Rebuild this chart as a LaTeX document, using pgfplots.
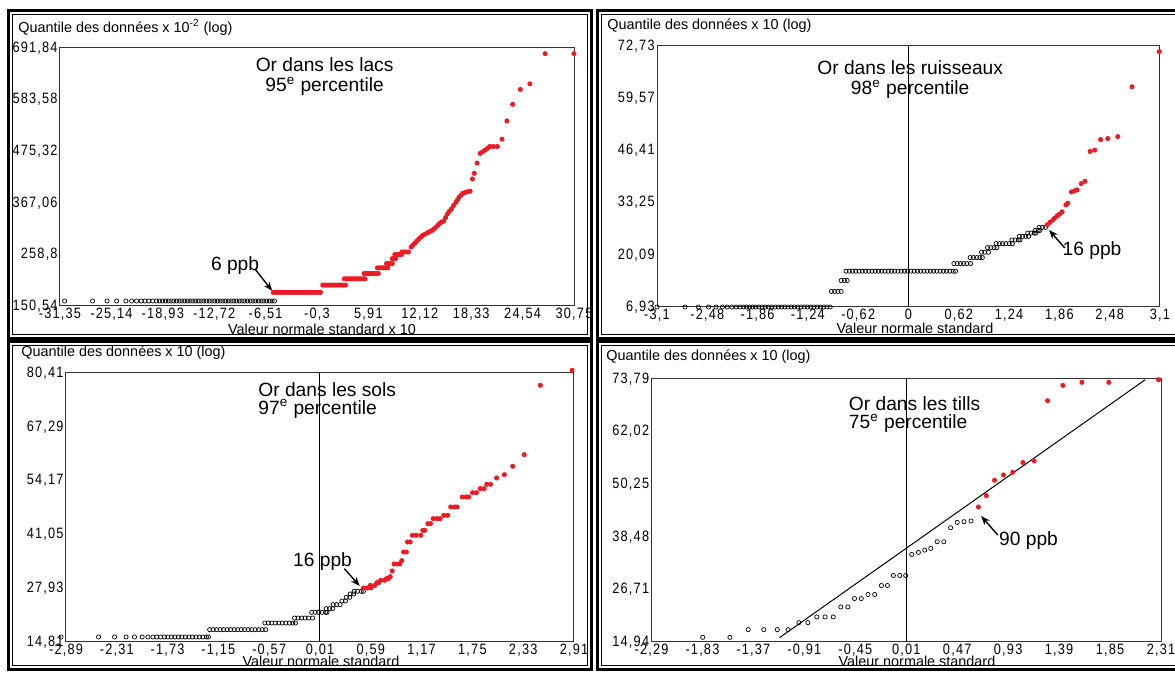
\documentclass[border=0pt]{standalone}
\usepackage{fontspec}
\setmainfont{Liberation Sans}
\newfontfamily\tickfont[FakeStretch=0.85,LetterSpace=8]{Liberation Sans}
\usepackage{pgfplots}
\pgfplotsset{compat=1.18}
\usetikzlibrary{arrows.meta}
\definecolor{ptred}{RGB}{237,28,36}
\newcommand{\tfont}{\fontsize{9.6}{10.3}\selectfont}
\newcommand{\tfontb}{\fontsize{9.6}{8.7}\selectfont}
\newcommand{\lfont}{\fontsize{7.2}{8}\selectfont}
\pgfplotsset{
  qq/.style={scale only axis, clip=false, anchor=south west,
    axis line style={black!80,line width=0.5pt},
    major tick length=0pt, tick style={draw=none},
    ticklabel style={font=\tickfont\fontsize{7.5}{8}\selectfont, text=black},
    xticklabel style={inner sep=0.8pt}, yticklabel style={inner sep=1pt}},
  blk/.style={only marks, mark=o, mark size=1.05pt, black, mark options={line width=0.35pt}},
  rd/.style={only marks, mark=*, mark size=1.05pt, ptred, mark options={draw=ptred, fill=ptred}},
  zl/.style={no marks, black, line width=0.5pt},
}
\begin{document}
\begin{tikzpicture}
\path[use as bounding box] (0pt,0pt) rectangle (587.5pt,-336.5pt);
% panel frames
\draw[line width=1.5pt] (4.25pt,-5.25pt) rectangle (295.5pt,-169.25pt);
\draw[line width=0.5pt] (6.25pt,-7.25pt) rectangle (293.5pt,-167.25pt);
\draw[line width=1.5pt] (298.75pt,-5.25pt) rectangle (592.5pt,-169.25pt);
\draw[line width=0.5pt] (300.75pt,-7.25pt) rectangle (590.5pt,-167.25pt);
\draw[line width=1.5pt] (4.25pt,-171pt) rectangle (295.5pt,-334.75pt);
\draw[line width=0.5pt] (6.25pt,-173pt) rectangle (293.5pt,-332.75pt);
\draw[line width=1.5pt] (298.75pt,-171pt) rectangle (592.5pt,-334.75pt);
\draw[line width=0.5pt] (300.75pt,-173pt) rectangle (590.5pt,-332.75pt);

% ---------------- top left: lacs
\begin{axis}[qq, at={(30pt,-153pt)}, width=257pt, height=129pt,
  xmin=-31.35, xmax=30.75, ymin=150.54, ymax=691.84,
  xtick={-31.35,-25.14,-18.93,-12.72,-6.51,-0.3,5.91,12.12,18.33,24.54,30.75},
  xticklabels={{-31,35},{-25,14},{-18,93},{-12,72},{-6,51},{-0,3},{5,91},{12,12},{18,33},{24,54},{30,75}},
  ytick={150.54,258.8,367.06,475.32,583.58,691.84},
  yticklabels={{150,54},{258,8},{367,06},{475,32},{583,58},{691,84}}]
\addplot[blk] coordinates {(-30.79,161) (-27.42,161) (-25.66,161) (-24.5,161) (-23.39,161) (-22.7,161) (-22.1,161) (-21.54,161) (-21.08,161) (-20.62,161) (-20.15,161) (-19.69,161) (-19.32,161) (-18.95,161) (-18.6,161) (-18.27,161) (-17.94,161) (-17.61,161) (-17.28,161) (-16.95,161) (-16.62,161) (-16.29,161) (-15.96,161) (-15.63,161) (-15.3,161) (-14.97,161) (-14.64,161) (-14.31,161) (-13.98,161) (-13.65,161) (-13.32,161) (-12.99,161) (-12.66,161) (-12.33,161) (-12.0,161) (-11.67,161) (-11.34,161) (-11.01,161) (-10.68,161) (-10.35,161) (-10.02,161) (-9.69,161) (-9.36,161) (-9.03,161) (-8.7,161) (-8.37,161) (-8.04,161) (-7.71,161) (-7.38,161) (-7.05,161) (-6.72,161) (-6.39,161) (-6.06,161) (-5.73,161) (-5.44,161)};
\addplot[rd] coordinates {(-5.58,179.1) (-5.33,179.1) (-5.08,179.1) (-4.83,179.1) (-4.58,179.1) (-4.33,179.1) (-4.08,179.1) (-3.83,179.1) (-3.58,179.1) (-3.33,179.1) (-3.08,179.1) (-2.83,179.1) (-2.58,179.1) (-2.33,179.1) (-2.08,179.1) (-1.83,179.1) (-1.58,179.1) (-1.33,179.1) (-1.08,179.1) (-0.83,179.1) (-0.58,179.1) (-0.33,179.1) (-0.08,179.1) (0.11,179.1)
(0.4,194.4) (0.65,194.4) (0.9,194.4) (1.15,194.4) (1.4,194.4) (1.65,194.4) (1.9,194.4) (2.15,194.4) (2.4,194.4) (2.65,194.4) (2.9,194.4) (3.15,194.4)
(3.0,207.6) (3.25,207.6) (3.5,207.6) (3.75,207.6) (4.0,207.6) (4.25,207.6) (4.5,207.6) (4.75,207.6) (5.0,207.6) (5.25,207.6) (5.5,207.6)
(5.4,218.7) (5.65,218.7) (5.9,218.7) (6.15,218.7) (6.4,218.7) (6.65,218.7) (6.9,218.7) (7.1,218.7)
(7.0,230.6) (7.25,230.6) (7.5,230.6) (7.75,230.6) (8.0,230.6) (8.25,230.6)
(8.1,239.6) (8.35,239.6) (8.6,239.6) (8.8,239.6)
(8.8,250.0) (9.0,250.0) (9.2,250.0)
(9.1,258.4) (9.35,258.4) (9.6,258.4) (9.9,258.4)
(9.95,263.9) (10.2,263.9) (10.45,263.9) (10.75,263.9)
(11.08,274.4) (11.3,278.5) (11.54,282.7) (11.77,287) (12.0,291.1) (12.24,295) (12.47,298.7) (12.77,301.5) (13.07,304.3) (13.35,306.7) (13.62,309.2) (13.85,312.5) (14.09,316.1) (14.32,320.3) (14.55,324.5) (14.78,326.6) (15.01,328.7) (15.24,336.3) (15.47,344.0) (15.7,349.2) (15.94,354.4) (16.2,361.4) (16.49,368.3) (16.68,373.5) (16.86,378.8) (17.1,383) (17.33,387.1) (17.67,389.2) (18.02,391.3) (18.2,391.3) (18.48,417.0) (18.71,428.9) (19.04,450.4) (19.41,470.6) (19.7,474.1) (20.01,477.6) (20.3,481.4) (20.57,485.2) (21.0,485.2) (21.49,485.2) (22.05,500.5) (22.65,538.8) (23.34,573.6) (24.27,604.9) (25.42,616.7) (27.27,680.0) (30.75,680.0)};
\node[font=\tfont, align=center] at (axis cs:0.62,632) {Or dans les lacs\\95\textsuperscript{e} percentile};
\node[font=\tfont] at (axis cs:-10.2,236.1) {6 ppb};
\draw[-{Stealth[length=4.5pt,width=3.5pt]}, line width=0.7pt] (axis cs:-7.75,227.1) -- (axis cs:-5.72,182.5);
\end{axis}

% ---------------- top right: ruisseaux
\begin{axis}[qq, at={(328.5pt,-153.5pt)}, width=251.5pt, height=130.5pt,
  xmin=-3.1, xmax=3.1, ymin=6.93, ymax=72.73,
  xtick={-3.1,-2.48,-1.86,-1.24,-0.62,0,0.62,1.24,1.86,2.48,3.1},
  xticklabels={{-3,1},{-2,48},{-1,86},{-1,24},{-0,62},0,{0,62},{1,24},{1,86},{2,48},{3,1}},
  ytick={6.93,20.09,33.25,46.41,59.57,72.73},
  yticklabels={{6,93},{20,09},{33,25},{46,41},{59,57},{72,73}}]
\addplot[zl] coordinates {(0,6.93) (0,72.73)};
\addplot[blk] coordinates {(-3.1,6.93) (-2.755,6.93) (-2.589,6.93) (-2.465,6.93) (-2.373,6.93) (-2.294,6.93) (-2.235,6.93) (-2.179,6.93) (-2.124,6.93) (-2.078,6.93) (-2.032,6.93) (-1.995,6.93) (-1.958,6.93) (-1.922,6.93) (-1.885,6.93) (-1.845,6.93) (-1.805,6.93) (-1.765,6.93) (-1.725,6.93) (-1.685,6.93) (-1.645,6.93) (-1.605,6.93) (-1.565,6.93) (-1.525,6.93) (-1.485,6.93) (-1.445,6.93) (-1.405,6.93) (-1.365,6.93) (-1.325,6.93) (-1.285,6.93) (-1.245,6.93) (-1.205,6.93) (-1.165,6.93) (-1.125,6.93) (-1.085,6.93) (-1.045,6.93) (-1.005,6.93) (-0.965,6.93)
(-0.95,10.86) (-0.91,10.86) (-0.87,10.86) (-0.83,10.86)
(-0.83,13.62) (-0.79,13.62) (-0.755,13.62)
(-0.77,15.96) (-0.73,15.96) (-0.69,15.96) (-0.65,15.96) (-0.61,15.96) (-0.57,15.96) (-0.53,15.96) (-0.49,15.96) (-0.45,15.96) (-0.41,15.96) (-0.37,15.96) (-0.33,15.96) (-0.29,15.96) (-0.25,15.96) (-0.21,15.96) (-0.17,15.96) (-0.13,15.96) (-0.09,15.96) (-0.05,15.96) (-0.01,15.96) (0.03,15.96) (0.07,15.96) (0.11,15.96) (0.15,15.96) (0.19,15.96) (0.23,15.96) (0.27,15.96) (0.31,15.96) (0.35,15.96) (0.39,15.96) (0.43,15.96) (0.47,15.96) (0.51,15.96) (0.55,15.96) (0.58,15.96)
(0.56,17.88) (0.6,17.88) (0.64,17.88) (0.68,17.88) (0.72,17.88) (0.765,17.88)
(0.76,19.39) (0.8,19.39) (0.84,19.39) (0.88,19.39) (0.91,19.39)
(0.9,20.73) (0.94,20.73) (0.985,20.73)
(0.975,21.9) (1.015,21.9) (1.055,21.9) (1.09,21.9)
(1.08,22.9) (1.12,22.9) (1.16,22.9) (1.2,22.9) (1.24,22.9) (1.28,22.9)
(1.275,23.82) (1.315,23.82) (1.355,23.82) (1.375,23.82)
(1.365,24.74) (1.405,24.74) (1.445,24.74) (1.48,24.74)
(1.47,25.57) (1.51,25.57) (1.55,25.57) (1.57,25.57)
(1.56,26.24) (1.6,26.24) (1.62,26.24)
(1.61,27.0) (1.65,27.0) (1.69,27.0)};
\addplot[rd] coordinates {(1.71,27.66) (1.742,28.25) (1.779,28.84) (1.802,29.34) (1.834,29.92) (1.862,30.34) (1.894,30.93) (1.94,32.68) (1.963,33.1) (2.009,35.94) (2.046,36.19) (2.078,36.44) (2.129,38.03) (2.175,38.62) (2.239,46.14) (2.295,46.48) (2.368,49.15) (2.456,49.4) (2.58,49.9) (2.755,62.45) (3.091,71.31)};
\node[font=\tfont, align=center] at (axis cs:0.021,64.3) {Or dans les ruisseaux\\98\textsuperscript{e} percentile};
\node[font=\tfont] at (axis cs:2.263,21.14) {16 ppb};
\draw[-{Stealth[length=4.5pt,width=3.5pt]}, line width=0.7pt] (axis cs:1.926,21.81) -- (axis cs:1.733,26.33);
\end{axis}

% ---------------- bottom left: sols
\begin{axis}[qq, at={(33pt,-321pt)}, width=254pt, height=134.5pt,
  xmin=-2.89, xmax=2.91, ymin=14.81, ymax=80.41,
  xtick={-2.89,-2.31,-1.73,-1.15,-0.57,0.01,0.59,1.17,1.75,2.33,2.91},
  xticklabels={{-2,89},{-2,31},{-1,73},{-1,15},{-0,57},{0,01},{0,59},{1,17},{1,75},{2,33},{2,91}},
  ytick={14.81,27.93,41.05,54.17,67.29,80.41},
  yticklabels={{14,81},{27,93},{41,05},{54,17},{67,29},{80,41}}]
\addplot[zl] coordinates {(0.01,14.81) (0.01,80.41)};
\addplot[blk] coordinates {(-2.947,16.03) (-2.518,16.03) (-2.335,16.03) (-2.204,16.03) (-2.108,16.03) (-2.02,16.03) (-1.955,16.03) (-1.898,16.03) (-1.854,16.03) (-1.81,16.03) (-1.767,16.03) (-1.727,16.03) (-1.687,16.03) (-1.647,16.03) (-1.607,16.03) (-1.567,16.03) (-1.527,16.03) (-1.487,16.03) (-1.447,16.03) (-1.407,16.03) (-1.367,16.03) (-1.327,16.03) (-1.287,16.03) (-1.264,16.03)
(-1.25,17.82) (-1.21,17.82) (-1.17,17.82) (-1.13,17.82) (-1.09,17.82) (-1.05,17.82) (-1.01,17.82) (-0.97,17.82) (-0.93,17.82) (-0.89,17.82) (-0.85,17.82) (-0.81,17.82) (-0.77,17.82) (-0.73,17.82) (-0.69,17.82) (-0.65,17.82) (-0.61,17.82)
(-0.62,19.44) (-0.58,19.44) (-0.54,19.44) (-0.5,19.44) (-0.46,19.44) (-0.42,19.44) (-0.38,19.44) (-0.34,19.44) (-0.3,19.44) (-0.27,19.44)
(-0.28,20.66) (-0.24,20.66) (-0.2,20.66) (-0.16,20.66) (-0.12,20.66) (-0.075,20.66)
(-0.085,22.05) (-0.045,22.05) (-0.005,22.05) (0.035,22.05) (0.075,22.05) (0.09,22.05)
(0.08,22.94) (0.12,22.94) (0.155,22.94)
(0.16,23.92) (0.2,23.92) (0.24,23.92)
(0.26,24.81) (0.3,24.81)
(0.31,25.70) (0.35,25.70)
(0.355,26.52) (0.395,26.52)
(0.4,27.17) (0.44,27.17) (0.48,27.17) (0.505,27.17)};
\addplot[rd] coordinates {(0.506,27.98) (0.55,27.98) (0.594,27.98) (0.585,28.63) (0.637,28.63) (0.659,29.28) (0.681,29.28) (0.703,29.85) (0.747,29.85) (0.769,30.26) (0.79,30.26) (0.812,30.74) (0.834,32.13) (0.856,33.83) (0.891,33.83) (0.922,33.83) (0.943,34.65) (0.965,36.76) (0.996,36.76) (1.009,39.2) (1.04,39.2) (1.066,40.83) (1.11,40.83) (1.162,40.83) (1.184,42.05) (1.206,42.05) (1.241,43.67) (1.271,43.67) (1.302,44.89) (1.346,44.89) (1.381,44.89) (1.424,45.7) (1.468,45.7) (1.503,47.74) (1.547,47.74) (1.577,47.74) (1.634,50.18) (1.678,50.18) (1.708,50.18) (1.752,51.23) (1.796,51.23) (1.839,52.21) (1.883,52.21) (1.914,53.26) (1.957,53.26) (2.027,54.81) (2.115,55.62) (2.211,57.66) (2.342,60.5) (2.526,77.41) (2.888,81.07)};
\node[font=\tfontb, align=left, anchor=west] at (axis cs:-0.774,73.7) {Or dans les sols\\97\textsuperscript{e} percentile};
\node[font=\tfont] at (axis cs:0.039,34.48) {16 ppb};
\draw[-{Stealth[length=4.5pt,width=3.5pt]}, line width=0.7pt] (axis cs:0.288,32.7) -- (axis cs:0.463,28.47);
\end{axis}

% ---------------- bottom right: tills
\begin{axis}[qq, at={(325.75pt,-321pt)}, width=254.75pt, height=131.5pt,
  xmin=-2.29, xmax=2.31, ymin=14.94, ymax=73.79,
  xtick={-2.29,-1.83,-1.37,-0.91,-0.45,0.01,0.47,0.93,1.39,1.85,2.31},
  xticklabels={{-2,29},{-1,83},{-1,37},{-0,91},{-0,45},{0,01},{0,47},{0,93},{1,39},{1,85},{2,31}},
  ytick={14.94,26.71,38.48,50.25,62.02,73.79},
  yticklabels={{14,94},{26,71},{38,48},{50,25},{62,02},{73,79}}]
\addplot[zl] coordinates {(0.01,14.94) (0.01,73.79)};
\addplot[no marks, black, line width=0.5pt] coordinates {(-1.134,15.91) (2.168,73.64)};
\addplot[blk] coordinates {(-1.828,15.99) (-1.582,15.99) (-1.417,17.71) (-1.276,17.71) (-1.154,17.71) (-1.057,17.71) (-0.959,19.28) (-0.878,19.28) (-0.797,20.55) (-0.723,20.55) (-0.649,20.55) (-0.581,22.79) (-0.517,22.79) (-0.457,24.66) (-0.396,24.66) (-0.335,25.56) (-0.275,25.56) (-0.214,27.58) (-0.16,27.58) (-0.106,29.82) (-0.049,29.82) (0.005,29.82) (0.059,34.53) (0.12,34.98) (0.177,35.50) (0.231,35.88) (0.289,37.37) (0.349,37.37) (0.41,40.51) (0.47,41.71) (0.531,41.86) (0.595,42.01)};
\addplot[rd] coordinates {(0.662,45.15) (0.733,47.69) (0.807,51.13) (0.888,52.33) (0.972,52.93) (1.063,55.10) (1.165,55.47) (1.286,68.93) (1.424,72.37) (1.596,73.04) (1.839,73.04) (2.288,73.64)};
\node[font=\tfontb, align=left, anchor=west] at (axis cs:-0.571,65.8) {Or dans les tills\\75\textsuperscript{e} percentile};
\node[font=\tfont] at (axis cs:1.114,37.75) {90 ppb};
\draw[-{Stealth[length=4.5pt,width=3.5pt]}, line width=0.7pt] (axis cs:0.837,38.87) -- (axis cs:0.686,43.13);
\end{axis}

% axis titles
\node[anchor=west, font=\lfont, inner sep=0pt] at (9pt,-13.5pt) {Quantile des données x 10\textsuperscript{-2} (log)};
\node[anchor=west, font=\lfont, inner sep=0pt] at (303.5pt,-13pt) {Quantile des données x 10 (log)};
\node[anchor=west, font=\lfont, inner sep=0pt] at (10.5pt,-176.5pt) {Quantile des données x 10 (log)};
\node[anchor=west, font=\lfont, inner sep=0pt] at (303pt,-178.5pt) {Quantile des données x 10 (log)};
\node[font=\lfont, inner sep=0pt] at (161pt,-164.5pt) {Valeur normale standard x 10};
\node[font=\lfont, inner sep=0pt] at (457.5pt,-164pt) {Valeur normale standard};
\node[font=\lfont, inner sep=0pt] at (160.5pt,-330.5pt) {Valeur normale standard};
\node[font=\lfont, inner sep=0pt] at (458.5pt,-330.5pt) {Valeur normale standard};
\end{tikzpicture}
\end{document}
